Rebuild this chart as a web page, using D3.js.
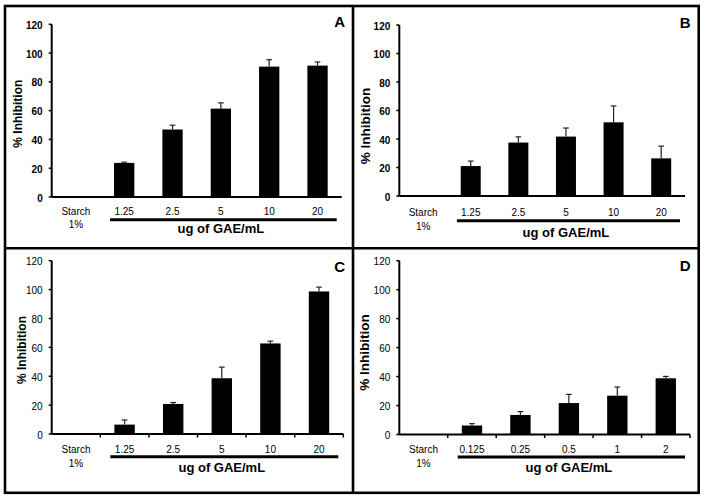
<!DOCTYPE html>
<html>
<head>
<meta charset="utf-8">
<script src="https://cdn.jsdelivr.net/npm/d3@7"></script>
<style>
  html, body { margin: 0; padding: 0; background: #fff; }
  svg { display: block; font-family: "Liberation Sans", Arial, sans-serif; }
</style>
</head>
<body>
<svg id="chart" width="707" height="500"></svg>
<script>
// ---- data ----
const catsABC = ["Starch|1%", "1.25", "2.5", "5", "10", "20"];
const catsD   = ["Starch|1%", "0.125", "0.25", "0.5", "1", "2"];

const valuesA = [0, 23.7, 46.9, 61.4, 90.6, 91.3];
const errorsA = [0, 0.5, 3.0, 4.0, 4.8, 2.5];

const valuesB = [0, 21.0, 37.5, 41.7, 51.7, 26.4];
const errorsB = [0, 3.5, 4.0, 6.0, 11.5, 8.6];

const valuesC = [0, 6.5, 20.8, 38.6, 62.7, 98.7];
const errorsC = [0, 3.2, 1.0, 7.7, 1.6, 3.0];

const valuesD = [0, 6.2, 13.5, 21.7, 26.8, 38.8];
const errorsD = [0, 1.3, 2.3, 6.0, 6.0, 1.3];

const yTicks = [0, 20, 40, 60, 80, 100, 120];
const panelLetters = ["A", "B", "C", "D"];
const xTitle = "ug of GAE/mL";
const yTitle = "% Inhibition";

// ---- layout ----
const svg = d3.select("#chart");

const layouts = [
  {ax: 51.7, xEnd: 341.7, y0: 197,   yTop: 24.3,  labY: 214.5, titleY: 233,   ulY: 219.7, letterX: 345,   letterY: 26.7, bold: true,  ylSize: 12,   ylX: 17.5,  ylY: 113.7, xticks: false},
  {ax: 399.3, xEnd: 685, y0: 196,   yTop: 25,    labY: 216,   titleY: 236.5, ulY: 220.8, letterX: 690.7, letterY: 28.3, bold: true,  ylSize: 13.5, ylX: 365.3, ylY: 126,   xticks: false},
  {ax: 51.7, xEnd: 343.3, y0: 434,   yTop: 260.7, labY: 452.7, titleY: 471.7, ulY: 456.7, letterX: 345,   letterY: 271.7, bold: false, ylSize: 12,  ylX: 22,    ylY: 350,   xticks: true},
  {ax: 399.3, xEnd: 690, y0: 434.5, yTop: 260.7, labY: 452.7, titleY: 471.7, ulY: 457,   letterX: 690.7, letterY: 271,  bold: false, ylSize: 13.5, ylX: 364.7, ylY: 352.5, xticks: true}
];

const panelData = [
  {cats: catsABC, vals: valuesA, errs: errorsA},
  {cats: catsABC, vals: valuesB, errs: errorsB},
  {cats: catsABC, vals: valuesC, errs: errorsC},
  {cats: catsD,   vals: valuesD, errs: errorsD}
];

// frame
svg.append("rect").attr("x", 5).attr("y", 6).attr("width", 693.7).attr("height", 486.8)
  .attr("fill", "none").attr("stroke", "#000").attr("stroke-width", 2.6);
svg.append("line").attr("x1", 353).attr("x2", 353).attr("y1", 6).attr("y2", 492.8)
  .attr("stroke", "#000").attr("stroke-width", 2.6);
svg.append("line").attr("x1", 5).attr("x2", 698.7).attr("y1", 248.3).attr("y2", 248.3)
  .attr("stroke", "#000").attr("stroke-width", 2.6);

layouts.forEach((L, i) => {
  const D = panelData[i];
  const g = svg.append("g");
  const x = d3.scaleBand().domain(D.cats).range([L.ax, L.xEnd]).paddingInner(0).paddingOuter(0);
  const y = d3.scaleLinear().domain([0, 120]).range([L.y0, L.yTop]);
  const bw = x.bandwidth();
  const barW = bw * 0.42;
  const rows = D.vals.map((v, k) => ({c: D.cats[k], v, e: D.errs[k]})).filter(d => d.v > 0);

  // bars
  g.selectAll("rect.bar").data(rows).enter().append("rect")
    .attr("x", d => x(d.c) + bw / 2 - barW / 2)
    .attr("width", barW)
    .attr("y", d => y(d.v))
    .attr("height", d => y(0) - y(d.v))
    .attr("fill", "#000");

  // error bars
  const eb = g.selectAll("g.err").data(rows).enter().append("g");
  eb.append("line")
    .attr("x1", d => x(d.c) + bw / 2).attr("x2", d => x(d.c) + bw / 2)
    .attr("y1", d => y(d.v)).attr("y2", d => y(d.v + d.e))
    .attr("stroke", "#222").attr("stroke-width", 1.2);
  eb.append("line")
    .attr("x1", d => x(d.c) + bw / 2 - 2.8).attr("x2", d => x(d.c) + bw / 2 + 2.8)
    .attr("y1", d => y(d.v + d.e)).attr("y2", d => y(d.v + d.e))
    .attr("stroke", "#222").attr("stroke-width", 1.2);

  // y axis
  g.append("line").attr("x1", L.ax).attr("x2", L.ax).attr("y1", y(120)).attr("y2", y(0))
    .attr("stroke", "#000").attr("stroke-width", 2);
  g.selectAll("line.yt").data(yTicks).enter().append("line")
    .attr("x1", L.ax - 3).attr("x2", L.ax).attr("y1", d => y(d)).attr("y2", d => y(d))
    .attr("stroke", "#000").attr("stroke-width", 1.5);
  g.selectAll("text.yl").data(yTicks).enter().append("text")
    .attr("x", L.ax - 9).attr("y", d => y(d) + 1).attr("dy", "0.35em")
    .attr("text-anchor", "end").attr("font-size", 10)
    .attr("font-weight", L.bold ? "bold" : "normal")
    .text(d => d);

  // x axis
  g.append("line").attr("x1", L.ax).attr("x2", L.xEnd).attr("y1", y(0)).attr("y2", y(0))
    .attr("stroke", "#000").attr("stroke-width", 2);
  if (L.xticks) {
    const bounds = D.cats.slice(1).map(c => x(c)).concat([L.xEnd]);
    g.selectAll("line.xt").data(bounds).enter().append("line")
      .attr("x1", d => d).attr("x2", d => d)
      .attr("y1", y(0)).attr("y2", y(0) + 3.5)
      .attr("stroke", "#000").attr("stroke-width", 1.5);
  }
  // category labels
  D.cats.forEach(c => {
    c.split("|").forEach((ln, j) => {
      g.append("text")
        .attr("x", x(c) + bw / 2)
        .attr("y", L.labY + j * 13.8)
        .attr("text-anchor", "middle").attr("font-size", 10)
        .text(ln);
    });
  });

  // underline
  g.append("line")
    .attr("x1", x(D.cats[1]) + 10).attr("x2", x(D.cats[5]) + bw - 5)
    .attr("y1", L.ulY).attr("y2", L.ulY)
    .attr("stroke", "#000").attr("stroke-width", 3);

  // x title
  g.append("text")
    .attr("x", (x(D.cats[1]) + x(D.cats[5]) + bw) / 2)
    .attr("y", L.titleY)
    .attr("text-anchor", "middle").attr("font-size", 13).attr("font-weight", "bold")
    .text(xTitle);

  // y title
  g.append("text")
    .attr("transform", `translate(${L.ylX},${L.ylY}) rotate(-90)`)
    .attr("text-anchor", "middle").attr("dy", "0.35em")
    .attr("font-size", L.ylSize).attr("font-weight", "bold")
    .text(yTitle);

  // panel letter
  g.append("text")
    .attr("x", L.letterX).attr("y", L.letterY)
    .attr("text-anchor", "end").attr("font-size", 15).attr("font-weight", "bold")
    .text(panelLetters[i]);
});
</script>
</body>
</html>
